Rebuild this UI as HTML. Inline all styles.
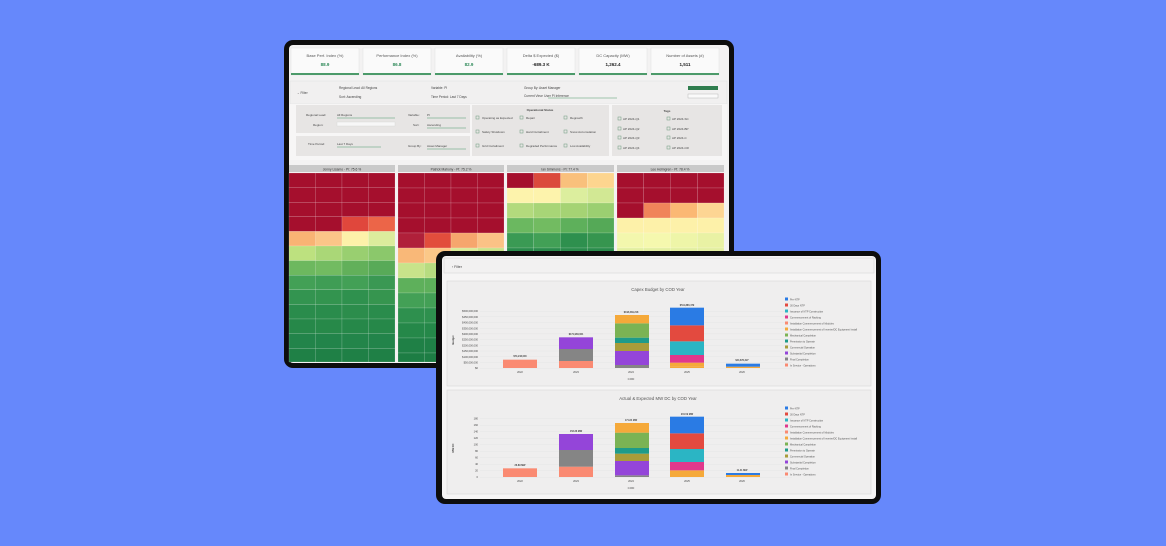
<!DOCTYPE html>
<html><head><meta charset="utf-8">
<style>
html,body{margin:0;padding:0;background:#6688fb;}
body{width:1166px;height:546px;overflow:hidden;position:relative;font-family:"Liberation Sans",sans-serif;}
svg{position:absolute;left:0;top:0;}
text{font-family:"Liberation Sans",sans-serif;}
</style></head><body>
<svg width="1166" height="546" viewBox="0 0 1166 546" xmlns="http://www.w3.org/2000/svg">
<rect width="1166" height="546" fill="#6688fb"/>
<!-- back device -->
<rect x="284" y="40" width="450" height="328" rx="9" fill="#0d0d0d"/>
<rect x="289" y="45" width="440" height="318" rx="4" fill="#f3f2f2"/>
<!-- KPI cards -->
<g font-size="4" fill="#555" text-anchor="middle">
<rect x="291" y="48" width="68" height="27" fill="#fafafa" stroke="#ddd" stroke-width="0.4"/><rect x="291" y="73" width="68" height="2" fill="#4c9a6a"/>
<text x="325" y="57">Base Perf. Index (%)</text><text x="325" y="66" fill="#2f8a5a" font-weight="bold" font-size="4.5">88.9</text>
<rect x="363" y="48" width="68" height="27" fill="#fafafa" stroke="#ddd" stroke-width="0.4"/><rect x="363" y="73" width="68" height="2" fill="#4c9a6a"/>
<text x="397" y="57">Performance Index (%)</text><text x="397" y="66" fill="#2f8a5a" font-weight="bold" font-size="4.5">86.8</text>
<rect x="435" y="48" width="68" height="27" fill="#fafafa" stroke="#ddd" stroke-width="0.4"/><rect x="435" y="73" width="68" height="2" fill="#4c9a6a"/>
<text x="469" y="57">Availability (%)</text><text x="469" y="66" fill="#2f8a5a" font-weight="bold" font-size="4.5">82.9</text>
<rect x="507" y="48" width="68" height="27" fill="#fafafa" stroke="#ddd" stroke-width="0.4"/><rect x="507" y="73" width="68" height="2" fill="#4c9a6a"/>
<text x="541" y="57">Delta $ Expected ($)</text><text x="541" y="66" fill="#222" font-weight="bold" font-size="4.5">-689.3 K</text>
<rect x="579" y="48" width="68" height="27" fill="#fafafa" stroke="#ddd" stroke-width="0.4"/><rect x="579" y="73" width="68" height="2" fill="#4c9a6a"/>
<text x="613" y="57">DC Capacity (MW)</text><text x="613" y="66" fill="#222" font-weight="bold" font-size="4.5">1,262.4</text>
<rect x="651" y="48" width="68" height="27" fill="#fafafa" stroke="#ddd" stroke-width="0.4"/><rect x="651" y="73" width="68" height="2" fill="#4c9a6a"/>
<text x="685" y="57">Number of Assets (#)</text><text x="685" y="66" fill="#222" font-weight="bold" font-size="4.5">1,511</text>
</g>
<!-- filter row -->
<rect x="290" y="81" width="437" height="23" fill="#f1f0f0" stroke="#ddd" stroke-width="0.4"/>
<g font-size="3.2" fill="#444">
<text x="297" y="94">⌄ Filter</text>
<text x="339" y="89">Regional Lead: All Regions</text><text x="339" y="98">Sort: Ascending</text>
<text x="431" y="89">Variable: PI</text><text x="431" y="98">Time Period: Last 7 Days</text>
<text x="524" y="89">Group By: Asset Manager</text><text x="524" y="97">Current View: User PI Inference</text>
</g>
<line x1="548" y1="98" x2="617" y2="98" stroke="#4c9a6a" stroke-width="0.6"/>
<rect x="688" y="86" width="30" height="4" fill="#2f7d4e"/>
<rect x="688" y="94" width="30" height="4" fill="#fafafa" stroke="#aaa" stroke-width="0.4"/>
<!-- filter panel -->
<rect x="290" y="104" width="437" height="56" fill="#f7f6f6"/>
<rect x="296" y="105" width="104" height="28" fill="#e7e5e4"/>
<rect x="296" y="136" width="104" height="20" fill="#e7e5e4"/>
<rect x="400" y="105" width="70" height="28" fill="#e7e5e4"/>
<rect x="400" y="136" width="70" height="20" fill="#e7e5e4"/>
<rect x="472" y="105" width="137" height="51" fill="#e7e5e4"/>
<rect x="612" y="105" width="110" height="51" fill="#e7e5e4"/>
<g font-size="3" fill="#444">
<text x="306" y="116">Regional Lead:</text><text x="337" y="116">All Regions</text>
<text x="313" y="126">Region:</text><rect x="337" y="122" width="58" height="4" fill="#f7f7f7" stroke="#ccc" stroke-width="0.3"/>
<text x="308" y="145">Time Period:</text><text x="337" y="145">Last 7 Days</text>
<text x="408" y="116">Variable:</text><text x="427" y="116">PI</text>
<text x="413" y="126">Sort:</text><text x="427" y="126">Ascending</text>
<text x="408" y="147">Group By:</text><text x="427" y="147">Asset Manager</text>
<text x="540" y="111" text-anchor="middle" font-weight="bold">Operational Status</text>
<text x="667" y="112" text-anchor="middle" font-weight="bold">Tags</text>
<text x="482" y="119">Operating as Expected</text><text x="526" y="119">Repair</text><text x="570" y="119">Regrowth</text>
<text x="482" y="133">Safety Shutdown</text><text x="526" y="133">Hard Curtailment</text><text x="570" y="133">Snow Accumulation</text>
<text x="482" y="147">Grid Curtailment</text><text x="526" y="147">Degraded Performance</text><text x="570" y="147">Low Availability</text>
<text x="623" y="120">AP 2024-Q1</text><text x="672" y="120">AP 2024-SC</text>
<text x="623" y="130">AP 2024-Q2</text><text x="672" y="130">AP 2024-BP</text>
<text x="623" y="139">AP 2024-Q3</text><text x="672" y="139">AP 2024-C</text>
<text x="623" y="149">AP 2024-Q4</text><text x="672" y="149">AP 2024-CR</text>
</g>
<g fill="none" stroke="#6a9a7a" stroke-width="0.5">
<rect x="476" y="116" width="3" height="3"/><rect x="476" y="130" width="3" height="3"/><rect x="476" y="144" width="3" height="3"/>
<rect x="520" y="116" width="3" height="3"/><rect x="520" y="130" width="3" height="3"/><rect x="520" y="144" width="3" height="3"/>
<rect x="564" y="116" width="3" height="3"/><rect x="564" y="130" width="3" height="3"/><rect x="564" y="144" width="3" height="3"/>
<rect x="618" y="117" width="3" height="3"/><rect x="618" y="127" width="3" height="3"/><rect x="618" y="136" width="3" height="3"/><rect x="618" y="146" width="3" height="3"/>
<rect x="667" y="117" width="3" height="3"/><rect x="667" y="127" width="3" height="3"/><rect x="667" y="136" width="3" height="3"/><rect x="667" y="146" width="3" height="3"/>
</g>
<g stroke="#4c9a6a" stroke-width="0.5"><line x1="337" y1="118" x2="395" y2="118"/><line x1="337" y1="147" x2="381" y2="147"/><line x1="427" y1="118" x2="466" y2="118"/><line x1="427" y1="128" x2="466" y2="128"/><line x1="427" y1="149" x2="466" y2="149"/></g>
<!-- heatmap headers -->
<g font-size="3.3" fill="#333" text-anchor="middle">
<rect x="289" y="165" width="106" height="7" fill="#c9c9c9"/><text x="342" y="170.5">Jonny Lisamo - PI: 75.6 %</text>
<rect x="398" y="165" width="106" height="7" fill="#c9c9c9"/><text x="451" y="170.5">Patrick Mahony - PI: 75.2 %</text>
<rect x="507" y="165" width="107" height="7" fill="#c9c9c9"/><text x="560" y="170.5">Ian Simmons - PI: 77.4 %</text>
<rect x="617" y="165" width="107" height="7" fill="#c9c9c9"/><text x="670" y="170.5">Lee Holmgren - PI: 78.4 %</text>
</g>
<g id="heat" stroke="#ffffff" stroke-opacity="0.35" stroke-width="0.4"></g>
<!-- front device -->
<rect x="436" y="251" width="445" height="253" rx="9" fill="#0d0d0d"/>
<rect x="442" y="256" width="434" height="243" rx="4" fill="#f6f5f5"/>
<rect x="444" y="258" width="430" height="15" fill="#f2f1f1" stroke="#d8d8d8" stroke-width="0.6"/>
<text x="452" y="268" font-size="3.5" fill="#444">›  Filter</text>
<rect x="447" y="281" width="424" height="105" fill="#efeeee" stroke="#d8d8d8" stroke-width="0.6"/>
<rect x="447" y="390" width="424" height="104" fill="#efeeee" stroke="#d8d8d8" stroke-width="0.6"/>
<g font-size="4.3" fill="#555" text-anchor="middle">
<text x="658" y="291">Capex Budget by COD Year</text>
<text x="658" y="400">Actual &amp; Expected MW DC by COD Year</text>
</g>
<g id="charts"></g>
<g font-size="2.6" fill="#444">
<text x="454" y="340" transform="rotate(-90 454 340)" text-anchor="middle" font-weight="bold">Budget</text>
<text x="454" y="448" transform="rotate(-90 454 448)" text-anchor="middle" font-weight="bold">MW DC</text>
<text x="631" y="380" text-anchor="middle" font-size="3">COD</text>
<text x="631" y="489" text-anchor="middle" font-size="3">COD</text>
<g text-anchor="middle"><text x="520" y="373">2022</text><text x="576" y="373">2023</text><text x="631" y="373">2024</text><text x="687" y="373">2025</text><text x="742" y="373">2026</text>
<text x="520" y="482">2022</text><text x="576" y="482">2023</text><text x="631" y="482">2024</text><text x="687" y="482">2025</text><text x="742" y="482">2026</text></g>
<g text-anchor="end">
<text x="478" y="369">$0</text><text x="478" y="363.5">$50,000,000</text><text x="478" y="357.8">$100,000,000</text><text x="478" y="352.1">$150,000,000</text><text x="478" y="346.4">$200,000,000</text><text x="478" y="340.7">$250,000,000</text><text x="478" y="335">$300,000,000</text><text x="478" y="329.3">$350,000,000</text><text x="478" y="323.6">$400,000,000</text><text x="478" y="317.9">$450,000,000</text><text x="478" y="312.2">$500,000,000</text>
<text x="478" y="478">0</text><text x="478" y="471.5">20</text><text x="478" y="465">40</text><text x="478" y="458.5">60</text><text x="478" y="452">80</text><text x="478" y="445.5">100</text><text x="478" y="439">120</text><text x="478" y="432.5">140</text><text x="478" y="426">160</text><text x="478" y="419.5">180</text>
</g>
<g text-anchor="middle" font-weight="bold" font-size="2.4">
<text x="520" y="357">$74,243,000</text><text x="576" y="335">$171,966,061</text><text x="631" y="313">$418,339,218</text><text x="687" y="306">$511,886,479</text><text x="742" y="361">$44,876,327</text>
<text x="520" y="466">26.89 MW</text><text x="576" y="432">153.36 MW</text><text x="631" y="421">171.84 MW</text><text x="687" y="415">201.59 MW</text><text x="742" y="471">11.41 MW</text>
</g>
</g>
<g id="legend" font-size="2.5" fill="#555"></g>
</svg>
<script>
var NS="http://www.w3.org/2000/svg";
function R(g,x,y,w,h,c){var r=document.createElementNS(NS,"rect");r.setAttribute("x",x);r.setAttribute("y",y);r.setAttribute("width",w);r.setAttribute("height",h);r.setAttribute("fill",c);g.appendChild(r);}
var A="#a50f2d";
var heat=document.getElementById("heat");
var cols=[
{x:289,w:106,h:14.6,rows:[[A,A,A,A],[A,A,A,A],[A,A,A,A],[A,A,"#e0473c","#ec6548"],["#f9b374","#fbc588","#fdf1a9","#dcec9c"],["#bde17f","#aad777","#99cf70","#8bc86b"],["#6db85f","#72bb61","#62b05a","#58aa58"],["#43a056","#3f9d55","#43a056","#3a9853"],["#339450","#33944f","#2f914e","#36954f"],["#2a8c4c","#2a8c4c","#2c8d4c","#2a8c4c"],["#268849","#278949","#268849","#268849"],["#22844a","#22844a","#23854a","#22844a"],["#1f8046","#1f8046","#1f8046","#1f8046"]]},
{x:398,w:106,h:15,rows:[[A,A,A,A],[A,A,A,A],[A,A,A,A],[A,A,A,A],["#b0203a","#e24d3c","#f6a66d","#fbc286"],["#f9b878","#fbc888","#d8eb98","#c8e38a"],["#c8e38a","#b7dc80","#a8d577","#9bcf71"],["#5eb05b","#5eb05b","#5eb05b","#5eb05b"],["#43a056","#43a056","#43a056","#43a056"],["#2e904e","#2e904e","#2e904e","#2e904e"],["#258849","#258849","#258849","#258849"],["#1f8046","#1f8046","#1f8046","#1f8046"],["#1d7d44","#1d7d44","#1d7d44","#1d7d44"]]},
{x:507,w:107,h:15,rows:[[A,"#db4a3c","#f9c07c","#fdd58f"],["#fdf3ac","#fdf3ac","#dcee9e","#d2e894"],["#b3da7d","#a8d577","#a5d374","#9bcf71"],["#6bb860","#72bb61","#5eb05b","#55a957"],["#3a9a54","#42a056","#2e904e","#36954f"],["#2a8c4c","#2a8c4c","#2a8c4c","#2a8c4c"]]},
{x:617,w:107,h:15,rows:[[A,A,A,A],[A,A,A,A],[A,"#f0845a","#fbb874","#fdd593"],["#fdf1a9","#fdf1a9","#fdf1a9","#fdf1a9"],["#f3f7ad","#f5f8ae","#eef5a8","#e9f2a4"],["#e3efa0","#e3efa0","#e3efa0","#e3efa0"]]}];
cols.forEach(function(c){var cw=c.w/4;c.rows.forEach(function(r,i){var y=173+i*c.h;if(y>362)return;var h=Math.min(c.h,362-y);r.forEach(function(col,j){R(heat,c.x+j*cw,y,cw,h,col);});});});
var charts=document.getElementById("charts");
// gridlines
for(var i=0;i<=10;i++){var y=368-i*5.7;R(charts,480,y,312,0.25,"#dcdcdc");}
for(var i=0;i<=9;i++){var y=477-i*6.5;R(charts,480,y,312,0.25,"#dcdcdc");}
var C={blue:"#2a7be4",red:"#e34a3f",cyan:"#2bb5c4",pink:"#e0388c",salmon:"#fa8a72",orange:"#f5a93a",green:"#7bb354",teal:"#1e9b8a",olive:"#a89c3a",purple:"#9445d9",gray:"#858585"};
var bx=[503,559,615,670,726],bw=34;
function seg(b,z1,z2,c){var y1=250+z1/3,y2=250+z2/3;R(charts,bx[b],y1,bw,y2-y1,C[c]);}
// chart1
seg(0,329,354,"salmon");
seg(1,333,354,"salmon");seg(1,297,333,"gray");seg(1,262,297,"purple");
seg(2,345,354,"gray");seg(2,303,345,"purple");seg(2,279,303,"olive");seg(2,263,279,"teal");seg(2,220,263,"green");seg(2,195,220,"orange");
seg(3,350,354,"orange");seg(3,338,350,"orange");seg(3,315,338,"pink");seg(3,274,315,"cyan");seg(3,226,274,"red");seg(3,173,226,"blue");
seg(4,350,354,"orange");seg(4,341,350,"blue");
// chart2
seg(0,655,681,"salmon");
seg(1,650,681,"salmon");seg(1,600,650,"gray");seg(1,552,600,"purple");
seg(2,676,681,"gray");seg(2,633,676,"purple");seg(2,611,633,"olive");seg(2,594,611,"teal");seg(2,548,594,"green");seg(2,519,548,"orange");
seg(3,661,681,"orange");seg(3,636,661,"pink");seg(3,597,636,"cyan");seg(3,550,597,"red");seg(3,500,550,"blue");
seg(4,675,681,"orange");seg(4,669,675,"blue");
var lg=document.getElementById("legend");
var cl=["blue","red","cyan","pink","salmon","orange","green","teal","olive","purple","gray","salmon"];
[299,408].forEach(function(y0){cl.forEach(function(c,i){R(lg,785,y0+i*6-1.5,3,3,C[c]);});});
</script>
<svg width="1166" height="546" style="pointer-events:none">
<g font-size="2.5" fill="#555" font-family="Liberation Sans, sans-serif">
<text x="790" y="300.5">Pre-NTP</text><text x="790" y="306.5">30 Days NTP</text><text x="790" y="312.5">Issuance of NTP Construction</text><text x="790" y="318.5">Commencement of Racking</text><text x="790" y="324.5">Installation Commencement of Modules</text><text x="790" y="330.5">Installation Commencement of Inverter/DC Equipment Install</text><text x="790" y="336.5">Mechanical Completion</text><text x="790" y="342.5">Permission to Operate</text><text x="790" y="348.5">Commercial Operation</text><text x="790" y="354.5">Substantial Completion</text><text x="790" y="360.5">Final Completion</text><text x="790" y="366.5">In Service - Operations</text>
<text x="790" y="409.5">Pre-NTP</text><text x="790" y="415.5">30 Days NTP</text><text x="790" y="421.5">Issuance of NTP Construction</text><text x="790" y="427.5">Commencement of Racking</text><text x="790" y="433.5">Installation Commencement of Modules</text><text x="790" y="439.5">Installation Commencement of Inverter/DC Equipment Install</text><text x="790" y="445.5">Mechanical Completion</text><text x="790" y="451.5">Permission to Operate</text><text x="790" y="457.5">Commercial Operation</text><text x="790" y="463.5">Substantial Completion</text><text x="790" y="469.5">Final Completion</text><text x="790" y="475.5">In Service - Operations</text>
</g>
</svg>
</body></html>
